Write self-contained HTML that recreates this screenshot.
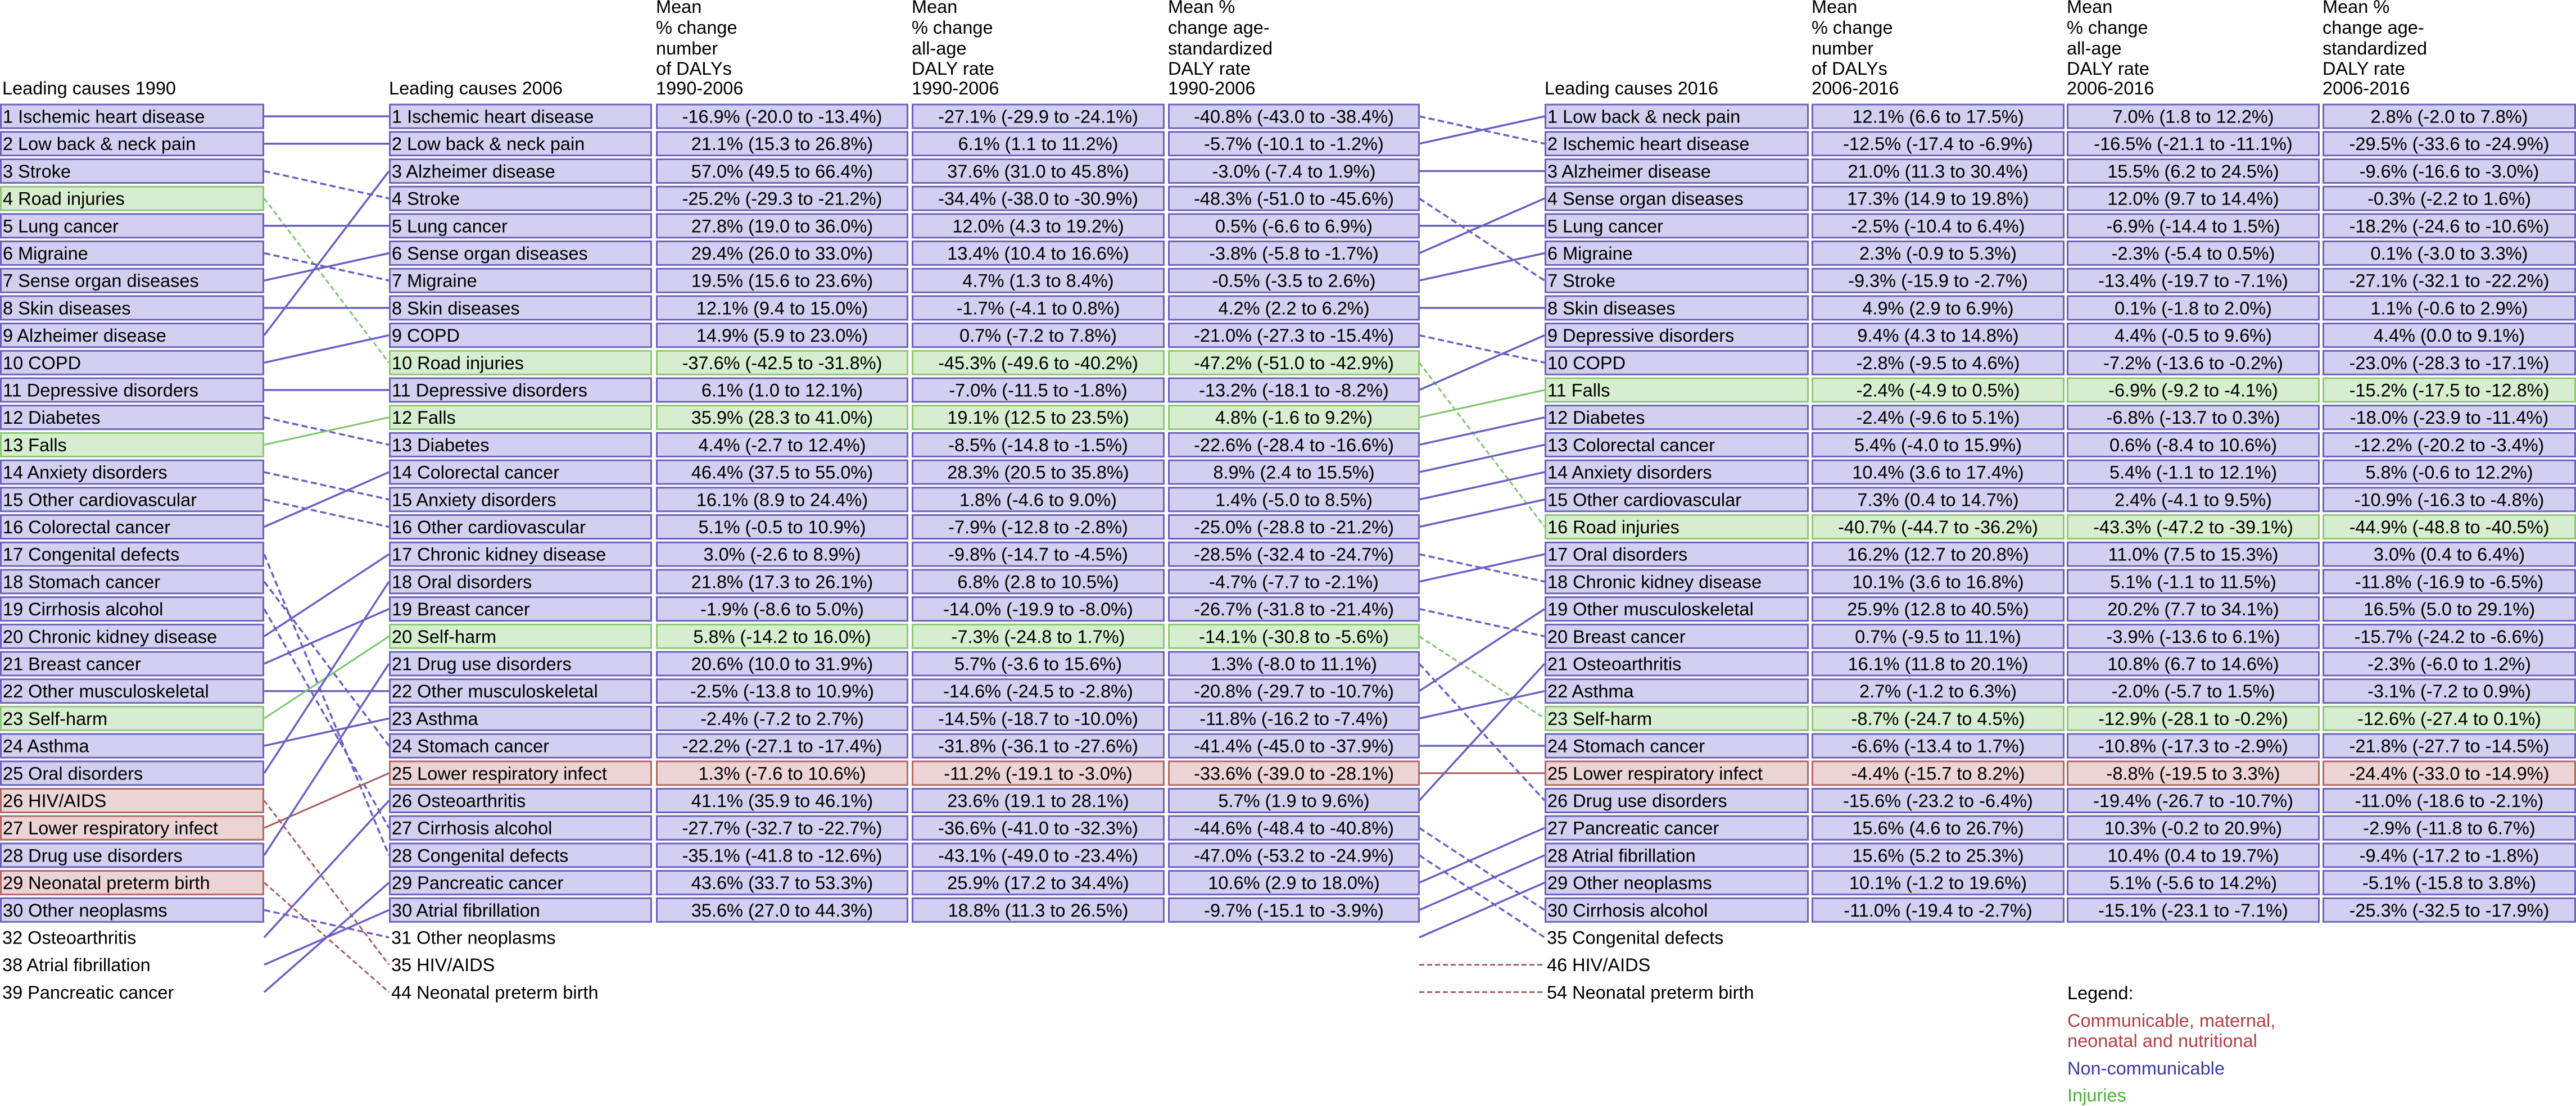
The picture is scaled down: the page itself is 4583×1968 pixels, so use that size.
<!DOCTYPE html>
<html><head><meta charset="utf-8">
<style>
html,body{margin:0;padding:0;background:#fff;}
svg{display:block;font-family:"Liberation Sans",Arial,sans-serif;}
</style></head>
<body>
<svg id="chart" width="4583" height="1968" viewBox="0 0 4583 1968" xmlns="http://www.w3.org/2000/svg">
<g id="headers" font-size="32.5" fill="#000">
<text x="4" y="168">Leading causes 1990</text>
<text x="692" y="168">Leading causes 2006</text>
<text x="2748" y="168">Leading causes 2016</text>
<text x="1167"><tspan x="1167" y="23">Mean</tspan><tspan x="1167" y="60">% change</tspan><tspan x="1167" y="97">number</tspan><tspan x="1167" y="133">of DALYs</tspan><tspan x="1167" y="168">1990-2006</tspan></text>
<text><tspan x="1622" y="23">Mean</tspan><tspan x="1622" y="60">% change</tspan><tspan x="1622" y="97">all-age</tspan><tspan x="1622" y="133">DALY rate</tspan><tspan x="1622" y="168">1990-2006</tspan></text>
<text><tspan x="2078" y="23">Mean %</tspan><tspan x="2078" y="60">change age-</tspan><tspan x="2078" y="97">standardized</tspan><tspan x="2078" y="133">DALY rate</tspan><tspan x="2078" y="168">1990-2006</tspan></text>
<text><tspan x="3223" y="23">Mean</tspan><tspan x="3223" y="60">% change</tspan><tspan x="3223" y="97">number</tspan><tspan x="3223" y="133">of DALYs</tspan><tspan x="3223" y="168">2006-2016</tspan></text>
<text><tspan x="3677" y="23">Mean</tspan><tspan x="3677" y="60">% change</tspan><tspan x="3677" y="97">all-age</tspan><tspan x="3677" y="133">DALY rate</tspan><tspan x="3677" y="168">2006-2016</tspan></text>
<text><tspan x="4132" y="23">Mean %</tspan><tspan x="4132" y="60">change age-</tspan><tspan x="4132" y="97">standardized</tspan><tspan x="4132" y="133">DALY rate</tspan><tspan x="4132" y="168">2006-2016</tspan></text>
</g>
<g id="lines"></g>
<g id="rows"></g>
<g id="legend" font-size="32.5">
<text x="3678" y="1778" fill="#000">Legend:</text>
<text fill="#b53e44"><tspan x="3678" y="1827">Communicable, maternal,</tspan><tspan x="3678" y="1863">neonatal and nutritional</tspan></text>
<text x="3678" y="1912" fill="#3b3aa8">Non-communicable</text>
<text x="3678" y="1960" fill="#4fae3f">Injuries</text>
</g>
</svg>
<script>
const ranks1990 = [1,2,3,4,5,6,7,8,9,10,11,12,13,14,15,16,17,18,19,20,21,22,23,24,25,26,27,28,29,30,32,38,39];
const names1990 = ["Ischemic heart disease","Low back & neck pain","Stroke","Road injuries","Lung cancer","Migraine","Sense organ diseases","Skin diseases","Alzheimer disease","COPD","Depressive disorders","Diabetes","Falls","Anxiety disorders","Other cardiovascular","Colorectal cancer","Congenital defects","Stomach cancer","Cirrhosis alcohol","Chronic kidney disease","Breast cancer","Other musculoskeletal","Self-harm","Asthma","Oral disorders","HIV/AIDS","Lower respiratory infect","Drug use disorders","Neonatal preterm birth","Other neoplasms","Osteoarthritis","Atrial fibrillation","Pancreatic cancer"];
const ranks2006 = [1,2,3,4,5,6,7,8,9,10,11,12,13,14,15,16,17,18,19,20,21,22,23,24,25,26,27,28,29,30,31,35,44];
const names2006 = ["Ischemic heart disease","Low back & neck pain","Alzheimer disease","Stroke","Lung cancer","Sense organ diseases","Migraine","Skin diseases","COPD","Road injuries","Depressive disorders","Falls","Diabetes","Colorectal cancer","Anxiety disorders","Other cardiovascular","Chronic kidney disease","Oral disorders","Breast cancer","Self-harm","Drug use disorders","Other musculoskeletal","Asthma","Stomach cancer","Lower respiratory infect","Osteoarthritis","Cirrhosis alcohol","Congenital defects","Pancreatic cancer","Atrial fibrillation","Other neoplasms","HIV/AIDS","Neonatal preterm birth"];
const numChange0616 = ["-16.9% (-20.0 to -13.4%)","21.1% (15.3 to 26.8%)","57.0% (49.5 to 66.4%)","-25.2% (-29.3 to -21.2%)","27.8% (19.0 to 36.0%)","29.4% (26.0 to 33.0%)","19.5% (15.6 to 23.6%)","12.1% (9.4 to 15.0%)","14.9% (5.9 to 23.0%)","-37.6% (-42.5 to -31.8%)","6.1% (1.0 to 12.1%)","35.9% (28.3 to 41.0%)","4.4% (-2.7 to 12.4%)","46.4% (37.5 to 55.0%)","16.1% (8.9 to 24.4%)","5.1% (-0.5 to 10.9%)","3.0% (-2.6 to 8.9%)","21.8% (17.3 to 26.1%)","-1.9% (-8.6 to 5.0%)","5.8% (-14.2 to 16.0%)","20.6% (10.0 to 31.9%)","-2.5% (-13.8 to 10.9%)","-2.4% (-7.2 to 2.7%)","-22.2% (-27.1 to -17.4%)","1.3% (-7.6 to 10.6%)","41.1% (35.9 to 46.1%)","-27.7% (-32.7 to -22.7%)","-35.1% (-41.8 to -12.6%)","43.6% (33.7 to 53.3%)","35.6% (27.0 to 44.3%)"];
const allAge9006 = ["-27.1% (-29.9 to -24.1%)","6.1% (1.1 to 11.2%)","37.6% (31.0 to 45.8%)","-34.4% (-38.0 to -30.9%)","12.0% (4.3 to 19.2%)","13.4% (10.4 to 16.6%)","4.7% (1.3 to 8.4%)","-1.7% (-4.1 to 0.8%)","0.7% (-7.2 to 7.8%)","-45.3% (-49.6 to -40.2%)","-7.0% (-11.5 to -1.8%)","19.1% (12.5 to 23.5%)","-8.5% (-14.8 to -1.5%)","28.3% (20.5 to 35.8%)","1.8% (-4.6 to 9.0%)","-7.9% (-12.8 to -2.8%)","-9.8% (-14.7 to -4.5%)","6.8% (2.8 to 10.5%)","-14.0% (-19.9 to -8.0%)","-7.3% (-24.8 to 1.7%)","5.7% (-3.6 to 15.6%)","-14.6% (-24.5 to -2.8%)","-14.5% (-18.7 to -10.0%)","-31.8% (-36.1 to -27.6%)","-11.2% (-19.1 to -3.0%)","23.6% (19.1 to 28.1%)","-36.6% (-41.0 to -32.3%)","-43.1% (-49.0 to -23.4%)","25.9% (17.2 to 34.4%)","18.8% (11.3 to 26.5%)"];
const ageStd9006 = ["-40.8% (-43.0 to -38.4%)","-5.7% (-10.1 to -1.2%)","-3.0% (-7.4 to 1.9%)","-48.3% (-51.0 to -45.6%)","0.5% (-6.6 to 6.9%)","-3.8% (-5.8 to -1.7%)","-0.5% (-3.5 to 2.6%)","4.2% (2.2 to 6.2%)","-21.0% (-27.3 to -15.4%)","-47.2% (-51.0 to -42.9%)","-13.2% (-18.1 to -8.2%)","4.8% (-1.6 to 9.2%)","-22.6% (-28.4 to -16.6%)","8.9% (2.4 to 15.5%)","1.4% (-5.0 to 8.5%)","-25.0% (-28.8 to -21.2%)","-28.5% (-32.4 to -24.7%)","-4.7% (-7.7 to -2.1%)","-26.7% (-31.8 to -21.4%)","-14.1% (-30.8 to -5.6%)","1.3% (-8.0 to 11.1%)","-20.8% (-29.7 to -10.7%)","-11.8% (-16.2 to -7.4%)","-41.4% (-45.0 to -37.9%)","-33.6% (-39.0 to -28.1%)","5.7% (1.9 to 9.6%)","-44.6% (-48.4 to -40.8%)","-47.0% (-53.2 to -24.9%)","10.6% (2.9 to 18.0%)","-9.7% (-15.1 to -3.9%)"];
const ranks2016 = [1,2,3,4,5,6,7,8,9,10,11,12,13,14,15,16,17,18,19,20,21,22,23,24,25,26,27,28,29,30,35,46,54];
const names2016 = ["Low back & neck pain","Ischemic heart disease","Alzheimer disease","Sense organ diseases","Lung cancer","Migraine","Stroke","Skin diseases","Depressive disorders","COPD","Falls","Diabetes","Colorectal cancer","Anxiety disorders","Other cardiovascular","Road injuries","Oral disorders","Chronic kidney disease","Other musculoskeletal","Breast cancer","Osteoarthritis","Asthma","Self-harm","Stomach cancer","Lower respiratory infect","Drug use disorders","Pancreatic cancer","Atrial fibrillation","Other neoplasms","Cirrhosis alcohol","Congenital defects","HIV/AIDS","Neonatal preterm birth"];
const numChange0616b = ["12.1% (6.6 to 17.5%)","-12.5% (-17.4 to -6.9%)","21.0% (11.3 to 30.4%)","17.3% (14.9 to 19.8%)","-2.5% (-10.4 to 6.4%)","2.3% (-0.9 to 5.3%)","-9.3% (-15.9 to -2.7%)","4.9% (2.9 to 6.9%)","9.4% (4.3 to 14.8%)","-2.8% (-9.5 to 4.6%)","-2.4% (-4.9 to 0.5%)","-2.4% (-9.6 to 5.1%)","5.4% (-4.0 to 15.9%)","10.4% (3.6 to 17.4%)","7.3% (0.4 to 14.7%)","-40.7% (-44.7 to -36.2%)","16.2% (12.7 to 20.8%)","10.1% (3.6 to 16.8%)","25.9% (12.8 to 40.5%)","0.7% (-9.5 to 11.1%)","16.1% (11.8 to 20.1%)","2.7% (-1.2 to 6.3%)","-8.7% (-24.7 to 4.5%)","-6.6% (-13.4 to 1.7%)","-4.4% (-15.7 to 8.2%)","-15.6% (-23.2 to -6.4%)","15.6% (4.6 to 26.7%)","15.6% (5.2 to 25.3%)","10.1% (-1.2 to 19.6%)","-11.0% (-19.4 to -2.7%)"];
const allAge0616 = ["7.0% (1.8 to 12.2%)","-16.5% (-21.1 to -11.1%)","15.5% (6.2 to 24.5%)","12.0% (9.7 to 14.4%)","-6.9% (-14.4 to 1.5%)","-2.3% (-5.4 to 0.5%)","-13.4% (-19.7 to -7.1%)","0.1% (-1.8 to 2.0%)","4.4% (-0.5 to 9.6%)","-7.2% (-13.6 to -0.2%)","-6.9% (-9.2 to -4.1%)","-6.8% (-13.7 to 0.3%)","0.6% (-8.4 to 10.6%)","5.4% (-1.1 to 12.1%)","2.4% (-4.1 to 9.5%)","-43.3% (-47.2 to -39.1%)","11.0% (7.5 to 15.3%)","5.1% (-1.1 to 11.5%)","20.2% (7.7 to 34.1%)","-3.9% (-13.6 to 6.1%)","10.8% (6.7 to 14.6%)","-2.0% (-5.7 to 1.5%)","-12.9% (-28.1 to -0.2%)","-10.8% (-17.3 to -2.9%)","-8.8% (-19.5 to 3.3%)","-19.4% (-26.7 to -10.7%)","10.3% (-0.2 to 20.9%)","10.4% (0.4 to 19.7%)","5.1% (-5.6 to 14.2%)","-15.1% (-23.1 to -7.1%)"];
const ageStd0616 = ["2.8% (-2.0 to 7.8%)","-29.5% (-33.6 to -24.9%)","-9.6% (-16.6 to -3.0%)","-0.3% (-2.2 to 1.6%)","-18.2% (-24.6 to -10.6%)","0.1% (-3.0 to 3.3%)","-27.1% (-32.1 to -22.2%)","1.1% (-0.6 to 2.9%)","4.4% (0.0 to 9.1%)","-23.0% (-28.3 to -17.1%)","-15.2% (-17.5 to -12.8%)","-18.0% (-23.9 to -11.4%)","-12.2% (-20.2 to -3.4%)","5.8% (-0.6 to 12.2%)","-10.9% (-16.3 to -4.8%)","-44.9% (-48.8 to -40.5%)","3.0% (0.4 to 6.4%)","-11.8% (-16.9 to -6.5%)","16.5% (5.0 to 29.1%)","-15.7% (-24.2 to -6.6%)","-2.3% (-6.0 to 1.2%)","-3.1% (-7.2 to 0.9%)","-12.6% (-27.4 to 0.1%)","-21.8% (-27.7 to -14.5%)","-24.4% (-33.0 to -14.9%)","-11.0% (-18.6 to -2.1%)","-2.9% (-11.8 to 6.7%)","-9.4% (-17.2 to -1.8%)","-5.1% (-15.8 to 3.8%)","-25.3% (-32.5 to -17.9%)"];
const communicable = ["HIV/AIDS","Lower respiratory infect","Neonatal preterm birth"];
const injuries = ["Road injuries","Falls","Self-harm"];

const NS = "http://www.w3.org/2000/svg";
const ROW0 = 207, PITCH = 48.7, BOXH = 45, BOXED = 30, FS = 32.5;
function yOf(slot){ return ROW0 + slot * PITCH; }
const COLORS = {
  N:{fill:"#d2d0f0",stroke:"#6b63bb",line:"#6a60c4"},
  C:{fill:"#ecd4d4",stroke:"#b26a6a",line:"#a85c5c"},
  I:{fill:"#d6eecf",stroke:"#8ec777",line:"#7ec56b"}
};
function cat(name){ return communicable.includes(name) ? "C" : injuries.includes(name) ? "I" : "N"; }
const rowsG = document.getElementById("rows");
const linesG = document.getElementById("lines");
function mk(tag, attrs, parent){
  const e = document.createElementNS(NS, tag);
  for (const k in attrs) e.setAttribute(k, attrs[k]);
  parent.appendChild(e);
  return e;
}
function cell(x, w, slot, c, text, anchor, nameAttr){
  const y = yOf(slot);
  const col = COLORS[c];
  const r = mk("rect", {x:x+1.5, y:y-BOXH/2+1.5, width:w-3, height:BOXH-3, fill:col.fill, stroke:col.stroke, "stroke-width":3}, rowsG);
  
  
  const t = mk("text", {x: anchor==="middle" ? x + w/2 : x + 5, y: y + 11.5, "font-size":FS, "text-anchor":anchor, fill:"#000"}, rowsG);
  t.textContent = text;
  
  
}
function plainLabel(x, slot, text, nameAttr){
  const t = mk("text", {x:x+4, y:yOf(slot)+11.5, "font-size":FS, fill:"#000"}, rowsG);
  t.textContent = text;
  
  
}
function column(ranks, names, x, w, valueCols, tag){
  names.forEach((n, i) => {
    const label = ranks[i] + " " + n;
    if (i < BOXED) {
      cell(x, w, i, cat(n), label, "start", tag + "-cause-" + ranks[i]);
      valueCols.forEach((vc, j) => {
        cell(vc.x, vc.w, i, cat(n), vc.vals[i], "middle", tag + "-value-" + (j+1) + "-" + ranks[i]);
      });
    } else {
      plainLabel(x, i, label, tag + "-cause-" + ranks[i]);
    }
  });
}
column(ranks1990, names1990, 0, 470, [], "y1990");
column(ranks2006, names2006, 692, 468, [
  {x:1167, w:449, vals:numChange0616},
  {x:1622, w:450, vals:allAge9006},
  {x:2078, w:448, vals:ageStd9006}], "y2006");
column(ranks2016, names2016, 2748, 470, [
  {x:3223, w:450, vals:numChange0616b},
  {x:3677, w:450, vals:allAge0616},
  {x:4132, w:451, vals:ageStd0616}], "y2016");

function connect(namesA, ranksA, namesB, ranksB, x1, x2, tag){
  namesA.forEach((n, i) => {
    const j = namesB.indexOf(n);
    if (j < 0) return;
    const c = cat(n);
    const dashed = ranksB[j] > ranksA[i];
    const l = mk("line", {x1:x1, y1:yOf(i), x2:x2, y2:yOf(j), stroke:COLORS[c].line,
      "stroke-width": c === "N" ? 3.5 : 3}, linesG);
    if (dashed) l.setAttribute("stroke-dasharray", c === "N" ? "11 6" : "9 5");
    
    
  });
}
connect(names1990, ranks1990, names2006, ranks2006, 470, 692, "1990-2006");
connect(names2006, ranks2006, names2016, ranks2016, 2525, 2748, "2006-2016");
</script>
</body></html>
